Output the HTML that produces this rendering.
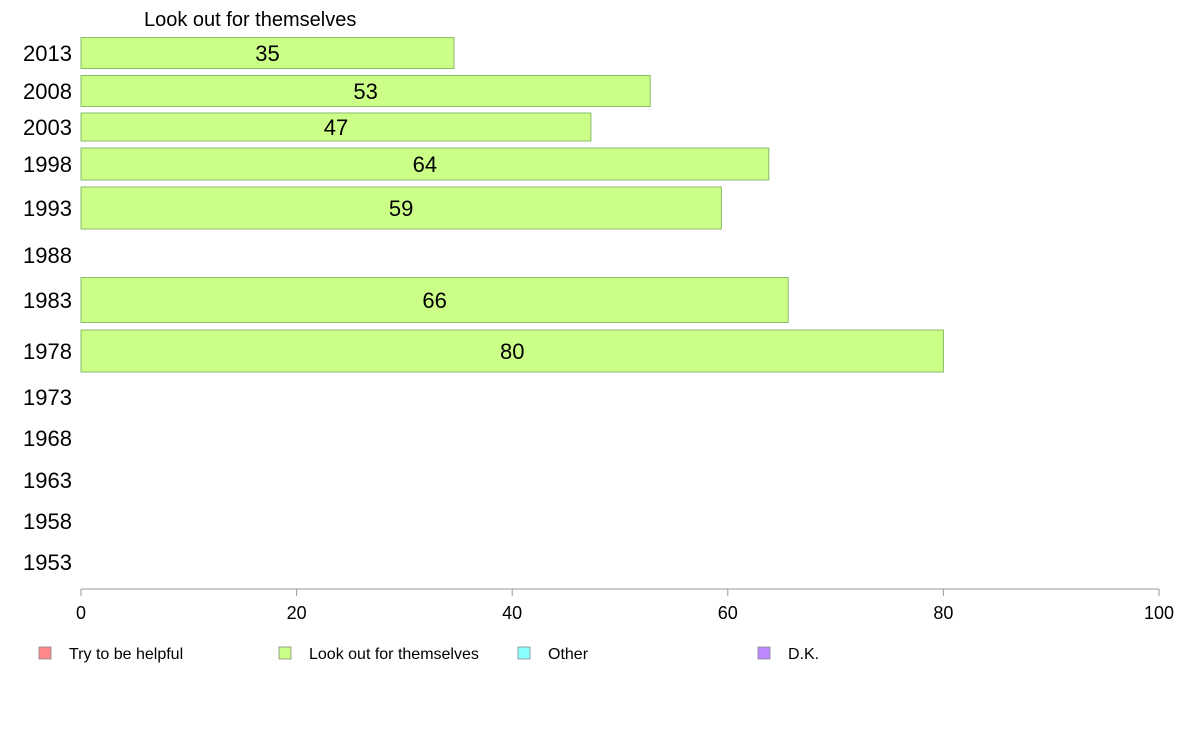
<!DOCTYPE html>
<html><head><meta charset="utf-8"><style>
body{margin:0;background:#fff;}
svg{display:block;font-family:"Liberation Sans",Arial,sans-serif;}
</style></head><body>
<svg id="chart" width="1188" height="736" viewBox="0 0 1188 736">
<text x="144" y="26" font-size="20" fill="#000">Look out for themselves</text>
<g id="bars"></g>
<g id="ylabels"></g>
<g id="xaxis"></g>
<g id="legend"></g>
</svg>
<script>
const years = ["2013","2008","2003","1998","1993","1988","1983","1978","1973","1968","1963","1958","1953"];
const values = [34.6, 52.8, 47.3, 63.8, 59.4, null, 65.6, 80.0, null, null, null, null, null];
const xTicks = [0, 20, 40, 60, 80, 100];
const legendLabels = ["Try to be helpful","Look out for themselves","Other","D.K."];
const legendColors = ["#ff8888","#ccff88","#88ffff","#bb88ff"];
// layout: row centers and bar heights (pixels)
const rowCenters = [53,91,127,164,208,255,300,351,397,438,480,521,562];
const rowHeights = [31,31,28,32,42,40,45,42,40,40,40,40,40];
const NS="http://www.w3.org/2000/svg";
const x0=81, x1=1159, axisY=589;
const xs=v=>x0+(v/100)*(x1-x0);
function mk(tag,attrs,parent){const e=document.createElementNS(NS,tag);for(const k in attrs)e.setAttribute(k,attrs[k]);parent.appendChild(e);return e;}
const bars=document.getElementById('bars'), yl=document.getElementById('ylabels'), xa=document.getElementById('xaxis'), lg=document.getElementById('legend');
years.forEach((y,i)=>{
  const t=mk('text',{x:72,y:rowCenters[i]+8,'font-size':22,'text-anchor':'end',fill:'#000'},yl);
  
  
  t.textContent=y;
  const v=values[i];
  if(v!=null){
    const h=rowHeights[i];
    const r=mk('rect',{x:x0,y:rowCenters[i]-h/2,width:xs(v)-x0,height:h,fill:'#ccff88',stroke:'#88bb66','stroke-width':1},bars);
    
    
    const l=mk('text',{x:(x0+xs(v))/2,y:rowCenters[i]+8,'font-size':22,'text-anchor':'middle',fill:'#000'},bars);
    
    
    l.textContent=Math.round(v);
  }
});
mk('line',{x1:x0,y1:axisY,x2:x1,y2:axisY,stroke:'#999','stroke-width':1},xa);
xTicks.forEach(v=>{
  mk('line',{x1:xs(v),y1:axisY,x2:xs(v),y2:axisY+7,stroke:'#999'},xa);
  const t=mk('text',{x:xs(v),y:axisY+30,'font-size':18,'text-anchor':'middle',fill:'#000'},xa);
  
  
  t.textContent=v;
});
const lx=[39,279,518,758];
legendLabels.forEach((s,i)=>{
  const g=mk('g',{},lg);
  
  
  mk('rect',{x:lx[i],y:647,width:12,height:12,fill:legendColors[i],stroke:'#888','stroke-width':0.8},g);
  const t=mk('text',{x:lx[i]+30,y:659,'font-size':16,fill:'#000'},g);
  t.textContent=s;
});
</script>
</body></html>
